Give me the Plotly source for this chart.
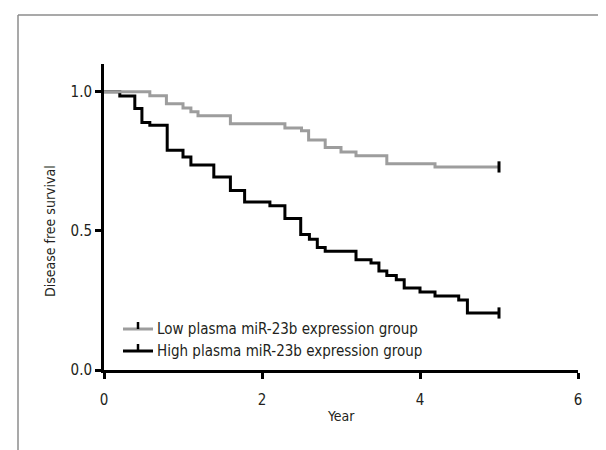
import plotly.graph_objects as go

# ---- data ----
low_name = "Low plasma miR-23b expression group"
high_name = "High plasma miR-23b expression group"

low_years = [0, 0.58, 0.79, 1.0, 1.1, 1.19, 1.6, 2.29, 2.5, 2.59, 2.8, 3.0, 3.19, 3.58, 4.19, 5.0]
low_surv = [1.0, 0.986, 0.957, 0.942, 0.928, 0.914, 0.885, 0.87, 0.86, 0.827, 0.80, 0.784, 0.77, 0.741, 0.73, 0.73]

high_years = [0, 0.2, 0.39, 0.48, 0.58, 0.8, 1.0, 1.1, 1.39, 1.6, 1.78, 2.1, 2.29, 2.49, 2.6, 2.7, 2.8,
              3.19, 3.38, 3.48, 3.58, 3.7, 3.8, 4.0, 4.19, 4.49, 4.6, 5.0]
high_surv = [1.0, 0.985, 0.94, 0.89, 0.88, 0.79, 0.766, 0.737, 0.694, 0.645, 0.604, 0.59, 0.545, 0.487,
             0.47, 0.44, 0.427, 0.396, 0.385, 0.356, 0.34, 0.324, 0.295, 0.28, 0.266, 0.252, 0.205, 0.205]

x_ticks = [0, 2, 4, 6]
y_ticks = [0.0, 0.5, 1.0]

# ---- styling ----
W, H = 606, 450
L, R, T, B = 96, 36, 56, 88
GRAY = "#9d9d9d"
BLACK = "#000000"
TXT = "#231f20"
FONT = "Liberation Sans Narrow, DejaVu Sans Condensed, Arial Narrow, sans-serif"

pw, ph = W - L - R, H - T - B


def px2paper(px, py):
    return (px - L) / pw, (H - B - py) / ph


fig = go.Figure()

fig.add_trace(go.Scatter(x=high_years, y=high_surv, mode="lines", line=dict(color=BLACK, width=3, shape="hv"),
                         name=high_name, showlegend=False))
fig.add_trace(go.Scatter(x=low_years, y=low_surv, mode="lines", line=dict(color=GRAY, width=3, shape="hv"),
                         name=low_name, showlegend=False))
# censor marks at the end of follow-up
fig.add_trace(go.Scatter(x=[low_years[-1], high_years[-1]], y=[low_surv[-1], high_surv[-1]], mode="markers",
                         marker=dict(symbol="line-ns-open", size=8, color=BLACK,
                                     line=dict(color=BLACK, width=3)),
                         showlegend=False, hoverinfo="skip"))

shapes = []
annotations = []

# legend (manual)
leg = [(low_name, GRAY, 321), (high_name, BLACK, 343)]
for name, col, py in leg:
    x0, y0 = px2paper(115, py)
    x1, _ = px2paper(145, py)
    shapes.append(dict(type="line", xref="paper", yref="paper", x0=x0, x1=x1, y0=y0, y1=y0,
                       line=dict(color=col, width=3)))
    xc, yt = px2paper(130, py - 7)
    shapes.append(dict(type="line", xref="paper", yref="paper", x0=xc, x1=xc, y0=y0, y1=yt,
                       line=dict(color=BLACK, width=2.5)))
    xt, _ = px2paper(147, py)
    annotations.append(dict(text=name, xref="paper", yref="paper", x=xt, y=y0, xanchor="left",
                            yanchor="middle", showarrow=False, font=dict(size=15, color=TXT, family=FONT)))

# axis titles
ax, ay = px2paper(42, 223)
annotations.append(dict(text="Disease free survival", xref="paper", yref="paper", x=ax, y=ay, textangle=-90,
                        showarrow=False, xanchor="center", yanchor="middle",
                        font=dict(size=14, color=TXT, family=FONT)))
ax, ay = px2paper(333, 408)
annotations.append(dict(text="Year", xref="paper", yref="paper", x=ax, y=ay, showarrow=False,
                        xanchor="center", yanchor="middle", font=dict(size=14, color=TXT, family=FONT)))

# outer frame (gray, partially visible)
fx0, fy0 = px2paper(10, 7)
fx1, fy1 = px2paper(W + 5, H + 5)
shapes.append(dict(type="line", xref="paper", yref="paper", x0=fx0, x1=fx0, y0=fy0, y1=fy1,
                   line=dict(color="#8c8c8c", width=1.5)))
shapes.append(dict(type="line", xref="paper", yref="paper", x0=fx0, x1=fx1, y0=fy0, y1=fy0,
                   line=dict(color="#8c8c8c", width=1.5)))

fig.update_layout(
    width=W, height=H,
    margin=dict(l=L, r=R, t=T, b=B),
    paper_bgcolor="white", plot_bgcolor="white",
    font=dict(family=FONT, size=14, color=TXT),
    showlegend=False,
    shapes=shapes, annotations=annotations,
    xaxis=dict(range=[0, 6], tickvals=x_ticks, ticktext=[str(v) for v in x_ticks], showgrid=False,
               zeroline=False, showline=True, linecolor=BLACK, linewidth=3, ticks="outside",
               ticklen=6, tickwidth=3, tickcolor=BLACK, ticklabelstandoff=8,
               tickfont=dict(size=15, color=TXT)),
    yaxis=dict(range=[0, 1.1], tickvals=y_ticks, ticktext=["0.0", "0.5", "1.0"], showgrid=False,
               zeroline=False, showline=True, linecolor=BLACK, linewidth=3, ticks="outside",
               ticklen=6, tickwidth=3, tickcolor=BLACK, tickfont=dict(size=15, color=TXT)),
)

fig.write_html("out.html")
